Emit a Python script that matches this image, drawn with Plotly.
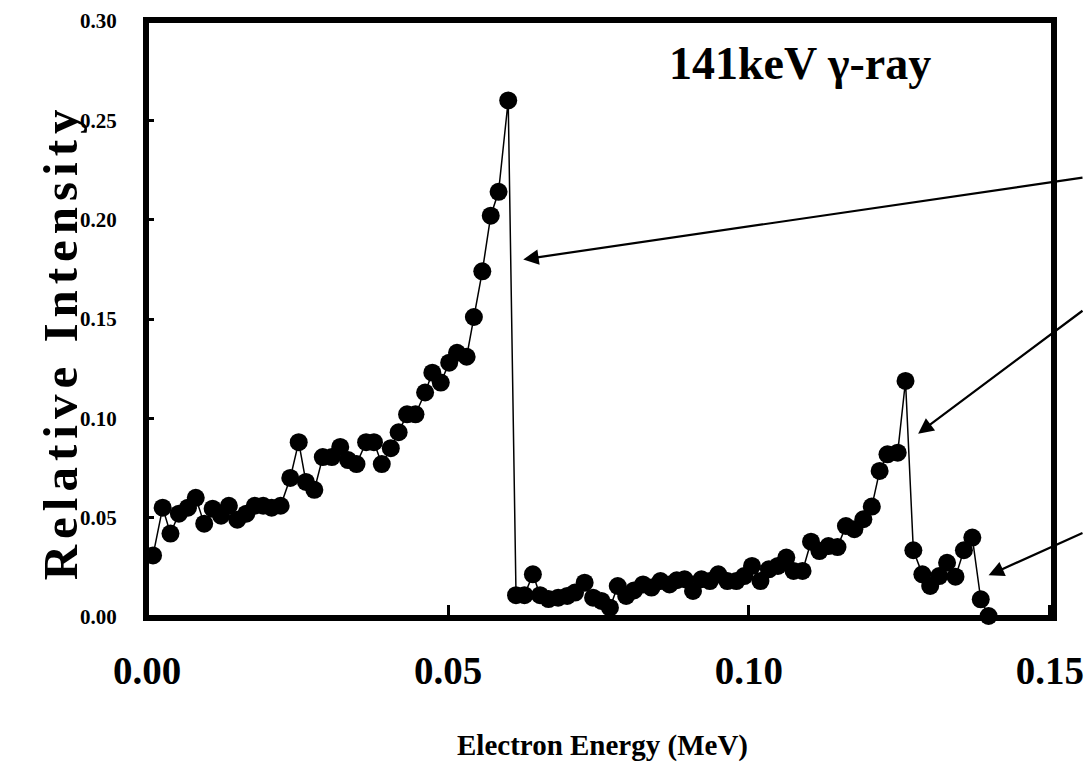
import plotly.graph_objects as go

energy_mev = [
    0.0010, 0.0026, 0.0039, 0.0053, 0.0068, 0.0081, 0.0095, 0.0109, 0.0123, 0.0136,
    0.0150, 0.0165, 0.0179, 0.0193, 0.0207, 0.0222, 0.0238, 0.0252, 0.0264, 0.0278,
    0.0292, 0.0307, 0.0321, 0.0334, 0.0348, 0.0364, 0.0377, 0.0390, 0.0405, 0.0418,
    0.0432, 0.0446, 0.0462, 0.0474, 0.0488, 0.0502, 0.0515, 0.0531, 0.0543, 0.0557,
    0.0571, 0.0584, 0.0600,
    0.0613, 0.0627, 0.0641, 0.0653, 0.0667, 0.0683, 0.0698, 0.0711, 0.0727, 0.0741,
    0.0755, 0.0769, 0.0782, 0.0796, 0.0809, 0.0824, 0.0838, 0.0853, 0.0868, 0.0880,
    0.0893, 0.0907, 0.0921, 0.0935, 0.0949, 0.0964, 0.0979, 0.0992, 0.1005, 0.1019,
    0.1033, 0.1048, 0.1062, 0.1074, 0.1089, 0.1103, 0.1117, 0.1132, 0.1147,
    0.1161, 0.1175, 0.1190, 0.1204, 0.1217, 0.1230, 0.1247, 0.1260, 0.1273, 0.1288,
    0.1301, 0.1316, 0.1329, 0.1343, 0.1357, 0.1371, 0.1385, 0.1398,
]
intensity = [
    0.031, 0.055, 0.042, 0.052, 0.055, 0.060, 0.047, 0.0545, 0.051, 0.056,
    0.049, 0.052, 0.056, 0.056, 0.055, 0.056, 0.070, 0.088, 0.068, 0.064,
    0.0805, 0.0805, 0.0856, 0.079, 0.077, 0.088, 0.088, 0.077, 0.085, 0.093,
    0.102, 0.102, 0.113, 0.123, 0.118, 0.128, 0.133, 0.131, 0.151, 0.174,
    0.202, 0.214, 0.260,
    0.011, 0.011, 0.0215, 0.011, 0.009, 0.0097, 0.0106, 0.0123, 0.0173, 0.0097,
    0.0081, 0.0047, 0.0156, 0.0106, 0.0134, 0.0164, 0.0148, 0.0181, 0.0164, 0.0185,
    0.019, 0.0131, 0.019, 0.0181, 0.0215, 0.0181, 0.0181, 0.0206, 0.0257, 0.0181,
    0.0240, 0.0257, 0.0299, 0.0232, 0.0232, 0.0379, 0.0332, 0.0357, 0.0352,
    0.0458, 0.0442, 0.0492, 0.0556, 0.0735, 0.0819, 0.0827, 0.1188, 0.0336, 0.0215,
    0.0156, 0.0206, 0.0273, 0.0203, 0.0336, 0.040, 0.0089, 0.0005,
]

x_ticks = [0.00, 0.05, 0.10, 0.15]
x_tick_labels = ["0.00", "0.05", "0.10", "0.15"]
y_ticks = [0.00, 0.05, 0.10, 0.15, 0.20, 0.25, 0.30]
y_tick_labels = ["0.00", "0.05", "0.10", "0.15", "0.20", "0.25", "0.30"]

# arrow heads (data coords) and tail offsets (pixels)
arrow_x = [0.0625, 0.1281, 0.1398]
arrow_y = [0.180, 0.0923, 0.021]
arrow_ax = [572, 177, 107]
arrow_ay = [-82, -124, -43]

FONT = "Liberation Serif"

fig = go.Figure()
fig.add_trace(go.Scatter(
    x=energy_mev, y=intensity, mode="lines+markers",
    line=dict(color="black", width=1.5),
    marker=dict(color="black", size=18),
    showlegend=False, cliponaxis=False,
))

annotations = []
for hx, hy, ax, ay in zip(arrow_x, arrow_y, arrow_ax, arrow_ay):
    annotations.append(dict(
        x=hx, y=hy, xref="x", yref="y", ax=ax, ay=ay, axref="pixel", ayref="pixel",
        text="", showarrow=True, arrowhead=2, arrowsize=1.4, arrowwidth=2.2,
        arrowcolor="black",
    ))

annotations.append(dict(
    x=0.7208, y=0.929, xref="paper", yref="paper", text="141keV γ-ray",
    showarrow=False, font=dict(family=FONT, size=46, color="black", weight="bold"),
    xanchor="center", yanchor="middle",
))
annotations.append(dict(
    x=-0.096, y=0.461, xref="paper", yref="paper",
    text='<span style="letter-spacing:6px">Relative Intensity</span>',
    textangle=-90, showarrow=False,
    font=dict(family=FONT, size=49, color="black", weight="bold"),
    xanchor="center", yanchor="middle",
))
annotations.append(dict(
    x=0.503, y=-0.215, xref="paper", yref="paper", text="Electron Energy (MeV)",
    showarrow=False, font=dict(family=FONT, size=29, color="black", weight="bold"),
    xanchor="center", yanchor="middle",
))

fig.update_layout(
    width=1084, height=771,
    margin=dict(l=147, r=31, t=21, b=154, autoexpand=False),
    paper_bgcolor="white", plot_bgcolor="white",
    annotations=annotations,
    shapes=[dict(type="rect", xref="paper", yref="paper", x0=0, x1=1, y0=0, y1=1,
                 line=dict(color="black", width=4), layer="above")],
    xaxis=dict(
        range=[0, 0.1505], tickmode="array", tickvals=x_ticks, ticktext=x_tick_labels,
        ticks="inside", ticklen=12, tickwidth=3, tickcolor="black",
        showline=True, linecolor="black", linewidth=4, mirror=True,
        showgrid=False, zeroline=False, ticklabelstandoff=16,
        ticklabeloverflow="allow", automargin=False,
        tickfont=dict(family=FONT, size=39, color="black", weight="bold"),
    ),
    yaxis=dict(
        range=[0, 0.30], tickmode="array", tickvals=y_ticks, ticktext=y_tick_labels,
        ticks="inside", ticklen=7, tickwidth=3, tickcolor="black",
        showline=True, linecolor="black", linewidth=4, mirror=True,
        showgrid=False, zeroline=False, ticklabelstandoff=22, automargin=False,
        tickfont=dict(family=FONT, size=21, color="black", weight="bold"),
    ),
)

fig.write_html("out.html")
